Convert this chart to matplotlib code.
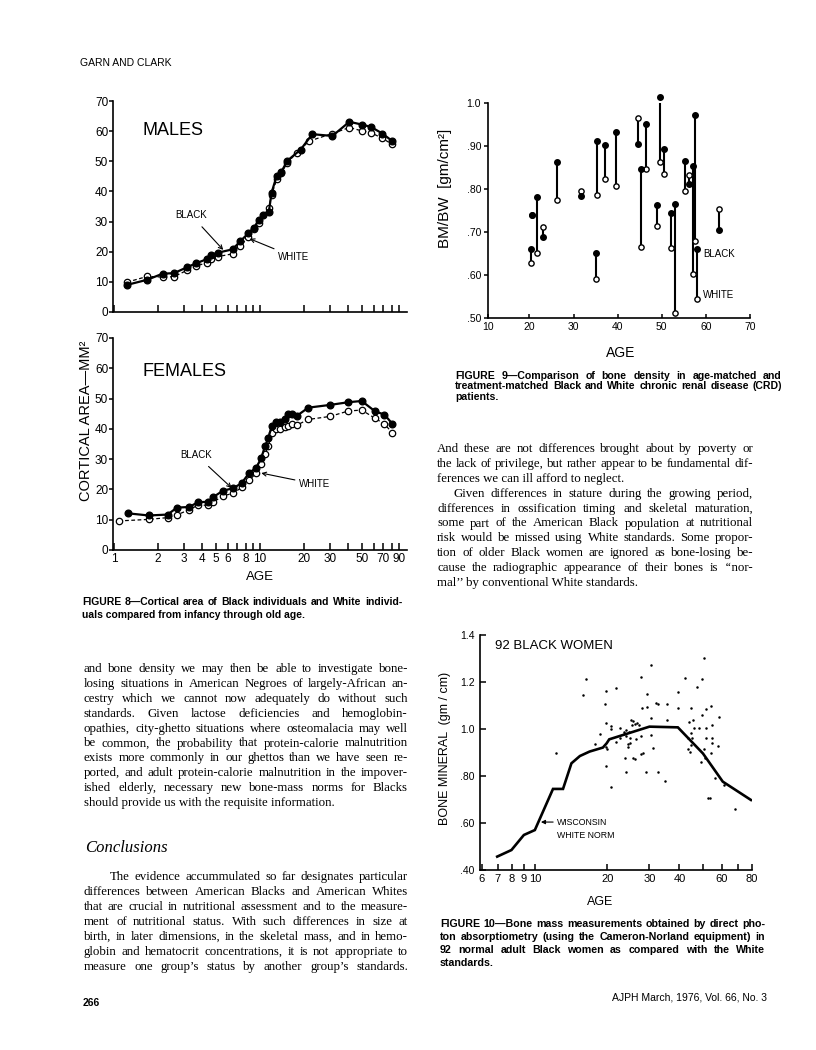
import numpy as np
import matplotlib
matplotlib.use("Agg")
import matplotlib.pyplot as plt
from matplotlib import font_manager
from matplotlib.ticker import FixedLocator, FixedFormatter, NullFormatter

# ---- data ----
# Figure 8, males
male_age_b = [1.23, 1.69, 2.15, 2.58, 3.15, 3.62, 4.31, 4.62, 5.18, 6.50, 7.33, 8.32, 9.09, 9.84,
              10.5, 11.5, 12.0, 13.0, 14.0, 15.4, 19.0, 22.8, 31.3, 40.9, 49.7, 57.5, 68.9, 80.5]
male_black = [9.0, 10.7, 12.7, 12.9, 14.8, 16.1, 17.5, 19.0, 19.7, 20.8, 23.5, 26.1, 28.0, 30.5,
              32.1, 33.3, 39.6, 45.1, 46.5, 50.2, 53.9, 59.0, 58.4, 63.1, 62.2, 61.4, 59.2, 56.7]
male_age_w = [1.23, 1.69, 2.15, 2.58, 3.15, 3.62, 4.31, 4.62, 5.18, 6.50, 7.33, 8.32, 9.09, 9.84,
              11.5, 12.0, 13.0, 14.0, 15.4, 17.8, 21.7, 31.3, 40.9, 49.7, 57.5, 68.9, 80.5]
male_white = [9.9, 11.8, 11.6, 11.7, 13.8, 15.1, 16.4, 17.5, 18.4, 19.3, 21.9, 24.8, 27.6, 29.4,
              34.4, 38.8, 44.0, 46.2, 49.5, 52.8, 56.7, 59.2, 61.2, 60.1, 59.5, 57.6, 55.6]

# Figure 8, females
fem_age_b = [1.25, 1.73, 2.33, 2.70, 3.28, 3.76, 4.38, 4.76, 5.58, 6.57, 7.49, 8.45, 9.39, 10.2, 10.8,
             11.4, 12.0, 12.8, 13.7, 14.8, 15.6, 16.6, 18.0, 21.4, 30.1, 40.3, 49.7, 61.3, 71.1, 80.5]
fem_black = [12.1, 11.4, 11.7, 14.0, 14.2, 15.8, 15.9, 17.4, 19.6, 20.4, 22.1, 25.5, 27.1, 30.3, 34.2,
             36.9, 40.8, 42.2, 42.3, 43.2, 44.8, 44.8, 44.4, 47.0, 47.9, 48.8, 49.2, 45.8, 44.7, 41.7]
fem_age_w = [1.08, 1.73, 2.33, 2.70, 3.28, 3.76, 4.38, 4.76, 5.58, 6.57, 7.49, 8.45, 9.39, 10.2, 10.8,
             11.4, 12.0, 12.8, 13.7, 14.8, 15.6, 16.6, 18.0, 21.4, 30.1, 40.3, 49.7, 61.3, 71.1, 80.5]
fem_white = [9.6, 10.1, 10.7, 11.6, 13.3, 14.8, 14.8, 15.7, 17.9, 18.7, 20.7, 23.0, 25.4, 28.4, 31.6,
             34.2, 38.6, 40.0, 40.0, 40.5, 41.0, 41.5, 41.3, 43.1, 44.1, 45.9, 46.2, 43.5, 41.6, 38.7]

age_ticks = [1, 2, 3, 4, 5, 6, 8, 10, 20, 30, 50, 70, 90]
age_minor = [7, 9, 40, 60, 80]

# Figure 9, CRD pairs
crd_age = [20.3, 20.6, 21.7, 23.1, 26.2, 31.7, 35.0, 35.4, 37.1, 39.7, 44.5, 45.3,
           46.4, 49.0, 49.7, 50.6, 52.0, 53.1, 55.2, 56.2, 57.0, 57.6, 58.0, 63.0]
crd_black = [0.660, 0.740, 0.781, 0.688, 0.863, 0.784, 0.652, 0.912, 0.902, 0.933, 0.905, 0.847,
             0.952, 0.762, 1.015, 0.894, 0.744, 0.765, 0.864, 0.812, 0.853, 0.973, 0.660, 0.704]
crd_white = [0.629, 0.740, 0.651, 0.712, 0.774, 0.796, 0.591, 0.785, 0.824, 0.808, 0.965, 0.664,
             0.847, 0.715, 0.863, 0.836, 0.663, 0.512, 0.795, 0.833, 0.603, 0.678, 0.545, 0.754]

# Figure 10, Wisconsin norm and 92 black women
norm_age = [6.97, 7.99, 9.0, 10.0, 11.9, 13.1, 14.2, 15.4, 16.9, 19.2, 19.9, 20.4, 30.0, 39.4, 50.1, 60.6, 79.4]
norm_bm = [0.457, 0.485, 0.549, 0.570, 0.745, 0.745, 0.854, 0.885, 0.904, 0.921, 0.939, 0.956,
           1.010, 1.007, 0.896, 0.776, 0.698]
women_age = [12.3, 15.9, 16.4, 17.8, 18.6, 19.7, 19.5, 19.7, 19.7, 19.9, 19.7, 20.7, 20.7, 21.7, 21.7,
             22.7, 23.4, 23.7, 23.9, 24.0, 24.0, 24.4, 24.4, 25.1, 25.6, 24.8, 25.5, 25.6, 26.0, 26.6,
             26.4, 27.1, 27.7, 28.0, 27.7, 28.2, 29.3, 29.3, 29.1, 30.5, 30.5, 30.5, 31.0, 31.8, 32.5,
             32.5, 34.7, 35.5, 35.5, 39.4, 39.4, 42.0, 43.8, 44.5, 43.4, 44.5, 45.2, 44.1, 45.5, 45.8,
             44.8, 47.4, 48.2, 49.8, 49.8, 50.4, 49.3, 50.4, 51.4, 51.7, 51.2, 52.5, 53.4, 54.2, 54.6,
             54.6, 54.6, 54.2, 57.8, 58.3, 56.5, 61.2, 68.4, 22.6, 24.7, 23.4, 27.7, 43.6, 24.8, 26.2,
             51.7, 20.8]
women_bm = [0.899, 1.145, 1.211, 0.935, 0.979, 1.163, 1.106, 1.024, 0.925, 0.913, 0.844, 1.013, 0.752,
            1.176, 0.946, 1.006, 0.989, 0.875, 0.818, 0.996, 0.970, 0.935, 0.925, 1.038, 1.035, 0.960,
            1.017, 0.878, 0.871, 1.024, 0.956, 1.017, 1.223, 1.088, 0.894, 0.896, 1.092, 1.149, 0.818,
            1.045, 1.272, 0.974, 0.918, 1.109, 1.106, 0.818, 0.779, 1.106, 1.038, 1.159, 1.088, 1.216,
            1.028, 1.088, 0.913, 0.982, 0.963, 0.904, 1.038, 1.003, 0.932, 1.180, 1.003, 1.060, 1.211,
            1.301, 0.861, 0.913, 1.084, 1.003, 0.875, 0.708, 0.708, 1.099, 1.017, 0.960, 0.942, 0.896,
            0.929, 1.050, 0.790, 0.762, 0.661, 0.963, 0.989, 0.979, 0.970, 0.960, 0.939, 1.020, 0.960,
            0.999]
bm_ticks = [0.4, 0.6, 0.8, 1.0, 1.2, 1.4]
bm_labels = [".40", ".60", ".80", "1.0", "1.2", "1.4"]
w_ticks = [6, 7, 8, 9, 10, 20, 30, 40, 60, 80]
w_minor = [50, 70]

# ---- page text ----
left_p1 = [
    "and bone density we may then be able to investigate bone-",
    "losing situations in American Negroes of largely-African an-",
    "cestry which we cannot now adequately do without such",
    "standards. Given lactose deficiencies and hemoglobin-",
    "opathies, city-ghetto situations where osteomalacia may well",
    "be common, the probability that protein-calorie malnutrition",
    "exists more commonly in our ghettos than we have seen re-",
    "ported, and adult protein-calorie malnutrition in the impover-",
    "ished elderly, necessary new bone-mass norms for Blacks",
    "should provide us with the requisite information.",
]
left_p2 = [
    "The evidence accummulated so far designates particular",
    "differences between American Blacks and American Whites",
    "that are crucial in nutritional assessment and to the measure-",
    "ment of nutritional status. With such differences in size at",
    "birth, in later dimensions, in the skeletal mass, and in hemo-",
    "globin and hematocrit concentrations, it is not appropriate to",
    "measure one group\u2019s status by another group\u2019s standards.",
]
right_p1 = [
    "And these are not differences brought about by poverty or",
    "the lack of privilege, but rather appear to be fundamental dif-",
    "ferences we can ill afford to neglect.",
]
right_p2 = [
    "Given differences in stature during the growing period,",
    "differences in ossification timing and skeletal maturation,",
    "some part of the American Black population at nutritional",
    "risk would be missed using White standards. Some propor-",
    "tion of older Black women are ignored as bone-losing be-",
    "cause the radiographic appearance of their bones is \u2018\u2018nor-",
    "mal\u2019\u2019 by conventional White standards.",
]
cap8 = ["FIGURE 8\u2014Cortical area of Black individuals and White individ-",
        "uals compared from infancy through old age."]
cap9 = ["FIGURE 9\u2014Comparison of bone density in age-matched and",
        "treatment-matched Black and White chronic renal disease (CRD)",
        "patients."]
cap10 = ["FIGURE 10\u2014Bone mass measurements obtained by direct pho-",
         "ton absorptiometry (using the Cameron-Norland equipment) in",
         "92 normal adult Black women as compared with the White",
         "standards."]

W, H = 816, 1050
SANS = "Liberation Sans"
SERIF = "Liberation Serif"
plt.rcParams["font.family"] = SANS

# narrow face for the axis numbers if the system has it
installed = {f.name for f in font_manager.fontManager.ttflist}
NUM = "Liberation Sans Narrow" if "Liberation Sans Narrow" in installed else SANS
NUM_SIZE = 9 if NUM != SANS else 8

fig = plt.figure(figsize=(W / 100, H / 100), dpi=100)
fig.patch.set_facecolor("white")
renderer = fig.canvas.get_renderer()


def add_ax(l, t, r, b):
    return fig.add_axes([l / W, 1 - b / H, (r - l) / W, (b - t) / H])


def ftext(x, y, s, **kw):
    return fig.text(x / W, 1 - y / H, s, **kw)


def fit_size(lines, width, size, **kw):
    # largest size at which every full line fits the column with plain spaces
    ratio = 10.0
    for line in lines[:-1]:
        t = fig.text(0, 0, line, fontsize=size, **kw)
        w = t.get_window_extent(renderer=renderer).width
        t.remove()
        ratio = min(ratio, width / w)
    return size * ratio * 0.985


def justify(lines, x0, x1, y0, dy, indent=0, last_full=False, **kw):
    n = len(lines)
    for i, line in enumerate(lines):
        y = y0 + i * dy
        xs = x0 + (indent if i == 0 else 0)
        words = line.split(" ")
        if (i == n - 1 and not last_full) or len(words) == 1:
            ftext(xs, y, line, va="center", ha="left", **kw)
            continue
        objs = [ftext(0, y, w, va="center", ha="left", **kw) for w in words]
        widths = [o.get_window_extent(renderer=renderer).width for o in objs]
        gap = (x1 - xs - sum(widths)) / (len(words) - 1)
        x = xs
        for o, w in zip(objs, widths):
            o.set_x(x / W)
            x += w + gap


def style_spines(ax, lw=1.2):
    for s in ["top", "right"]:
        ax.spines[s].set_visible(False)
    for s in ["left", "bottom"]:
        ax.spines[s].set_linewidth(lw)
    ax.patch.set_alpha(0)


def num_font(ax):
    for lab in ax.get_xticklabels() + ax.get_yticklabels():
        lab.set_family(NUM)


def fig8_axes(ax, show_x_labels):
    style_spines(ax)
    ax.set_xscale("log")
    ax.set_xlim(0.985, 101.5)
    ax.set_ylim(0, 70)
    ax.set_yticks(range(0, 71, 10))
    ax.tick_params(axis="y", direction="out", length=3, width=1.1, labelsize=NUM_SIZE + 0.5, pad=0.5)
    ax.xaxis.set_major_locator(FixedLocator(age_ticks))
    ax.xaxis.set_minor_locator(FixedLocator(age_minor))
    if show_x_labels:
        ax.xaxis.set_major_formatter(FixedFormatter([str(a) for a in age_ticks]))
    else:
        ax.xaxis.set_major_formatter(NullFormatter())
    ax.xaxis.set_minor_formatter(NullFormatter())
    ax.tick_params(axis="x", which="both", direction="in", length=5, width=1.1,
                   labelsize=NUM_SIZE + 0.5, pad=2)
    num_font(ax)


def fig8_lines(ax, ab, b, aw, w):
    ax.plot(aw, w, "--", color="black", lw=0.9, dashes=(3, 2), zorder=2)
    ax.plot(aw, w, "o", ms=4.6, mfc="white", mec="black", mew=0.9, zorder=3)
    ax.plot(ab, b, "-", color="black", lw=1.6, zorder=4)
    ax.plot(ab, b, "o", ms=4.8, color="black", zorder=5)


# ---- Figure 8 ----
ax_m = add_ax(113, 101, 407, 312)
fig8_axes(ax_m, False)
fig8_lines(ax_m, male_age_b, male_black, male_age_w, male_white)
ax_m.text(0.10, 0.86, "MALES", transform=ax_m.transAxes, fontsize=13, va="center")
ax_m.annotate("BLACK", xy=(5.6, 20.6), xytext=(3.37, 32.2), fontsize=7, ha="center", va="center",
              arrowprops=dict(arrowstyle="->", lw=0.8, color="black", shrinkA=4, shrinkB=0))
ax_m.annotate("WHITE", xy=(8.5, 24.3), xytext=(13.3, 18.3), fontsize=7, ha="left", va="center",
              arrowprops=dict(arrowstyle="->", lw=0.8, color="black", shrinkA=1, shrinkB=0))

ax_f = add_ax(113, 338, 407, 550)
fig8_axes(ax_f, True)
fig8_lines(ax_f, fem_age_b, fem_black, fem_age_w, fem_white)
ax_f.text(0.10, 0.84, "FEMALES", transform=ax_f.transAxes, fontsize=13, va="center")
ax_f.annotate("BLACK", xy=(6.4, 20.5), xytext=(3.65, 31.4), fontsize=7, ha="center", va="center",
              arrowprops=dict(arrowstyle="->", lw=0.8, color="black", shrinkA=4, shrinkB=0))
ax_f.annotate("WHITE", xy=(10.2, 25.4), xytext=(18.5, 21.8), fontsize=7, ha="left", va="center",
              arrowprops=dict(arrowstyle="->", lw=0.8, color="black", shrinkA=1, shrinkB=0))

ftext(86, 421, "CORTICAL AREA\u2014MM\u00b2", rotation=90, fontsize=10.5, ha="center", va="center")
ftext(260, 577, "AGE", fontsize=9.5, ha="center", va="center")

# ---- Figure 9 ----
ax9 = add_ax(488, 103, 750, 318)
style_spines(ax9)
ax9.set_xlim(10.6, 70)
ax9.set_ylim(0.5, 1.0)
ax9.set_xticks([10.6, 20, 30, 40, 50, 60, 70])
ax9.set_xticklabels(["10", "20", "30", "40", "50", "60", "70"])
ax9.set_yticks([0.5, 0.6, 0.7, 0.8, 0.9, 1.0])
ax9.set_yticklabels([".50", ".60", ".70", ".80", ".90", "1.0"])
ax9.tick_params(axis="x", direction="in", length=3, width=1.1, labelsize=7.5, pad=3)
ax9.tick_params(axis="y", direction="out", length=3, width=1.1, labelsize=7.5, pad=2)
ax9.vlines(crd_age, crd_white, crd_black, color="black", lw=1.5, zorder=2)
ax9.plot(crd_age, crd_white, "o", ms=3.8, mfc="white", mec="black", mew=1.0, zorder=3, clip_on=False)
ax9.plot(crd_age, crd_black, "o", ms=4.0, color="black", zorder=4, clip_on=False)
ax9.text(59.4, 0.650, "BLACK", fontsize=7, va="center")
ax9.text(59.4, 0.554, "WHITE", fontsize=7, va="center")
ftext(445, 188, "BM/BW  [gm/cm\u00b2]", rotation=90, fontsize=11, ha="center", va="center")
ftext(621, 353, "AGE", fontsize=10, ha="center", va="center")

# ---- Figure 10 ----
ax10 = add_ax(480, 635, 752, 870)
style_spines(ax10)
ax10.set_xscale("log")
ax10.set_xlim(5.91, 80.2)
ax10.set_ylim(0.4, 1.4)
ax10.xaxis.set_major_locator(FixedLocator(w_ticks))
ax10.xaxis.set_major_formatter(FixedFormatter([str(a) for a in w_ticks]))
ax10.xaxis.set_minor_locator(FixedLocator(w_minor))
ax10.xaxis.set_minor_formatter(NullFormatter())
ax10.set_yticks(bm_ticks)
ax10.set_yticklabels(bm_labels)
ax10.tick_params(axis="x", which="both", direction="in", length=4, width=1.1, labelsize=8, pad=3)
ax10.tick_params(axis="y", direction="in", length=4, width=1.1, labelsize=7.5, pad=4)
ax10.plot(norm_age, norm_bm, "-", color="black", lw=1.9, solid_joinstyle="miter")
ax10.plot(women_age, women_bm, "o", ms=1.8, color="black", mec="none")
ax10.text(0.055, 0.953, "92 BLACK WOMEN", transform=ax10.transAxes, fontsize=9.5, va="center")
ax10.annotate("WISCONSIN", xy=(10.6, 0.604), xytext=(12.4, 0.604), fontsize=6.3, va="center",
              ha="left", arrowprops=dict(arrowstyle="-|>", lw=0.8, color="black",
                                         mutation_scale=6, shrinkA=1, shrinkB=0))
ax10.text(12.4, 0.545, "WHITE NORM", fontsize=6.3, va="center", ha="left")
ftext(445, 748, "BONE MINERAL  (gm / cm)", rotation=90, fontsize=9, ha="center", va="center")
ftext(600, 902, "AGE", fontsize=9, ha="center", va="center")

# ---- page text ----
ftext(80, 63, "GARN AND CLARK", fontsize=7.5, va="center")
ftext(83, 1003, "266", fontsize=7.5, va="center", fontweight="bold")
ftext(767, 997, "AJPH March, 1976, Vol. 66, No. 3", fontsize=7.5, va="center", ha="right")

cap_kw = dict(fontweight="bold", family=SANS)
justify(cap8, 82, 402, 602, 12.5, fontsize=fit_size(cap8, 320, 7, **cap_kw), **cap_kw)
justify(cap9, 455, 782, 376, 10.5, fontsize=fit_size(cap9, 327, 7, **cap_kw), **cap_kw)
justify(cap10, 440, 765, 924, 13, fontsize=fit_size(cap10, 325, 7, **cap_kw), **cap_kw)

body_kw = dict(fontsize=9.3, family=SERIF)
justify(left_p1, 84, 408, 669, 14.9, **body_kw)
ftext(85, 848, "Conclusions", fontsize=12, family=SERIF, style="italic", va="center")
justify(left_p2, 84, 408, 877, 15, indent=26, last_full=True, **body_kw)
justify(right_p1, 437, 753, 449, 14.9, **body_kw)
justify(right_p2, 437, 753, 449 + 3 * 14.9, 14.9, indent=16, **body_kw)

fig.savefig("out.png", dpi=100, facecolor="white")
